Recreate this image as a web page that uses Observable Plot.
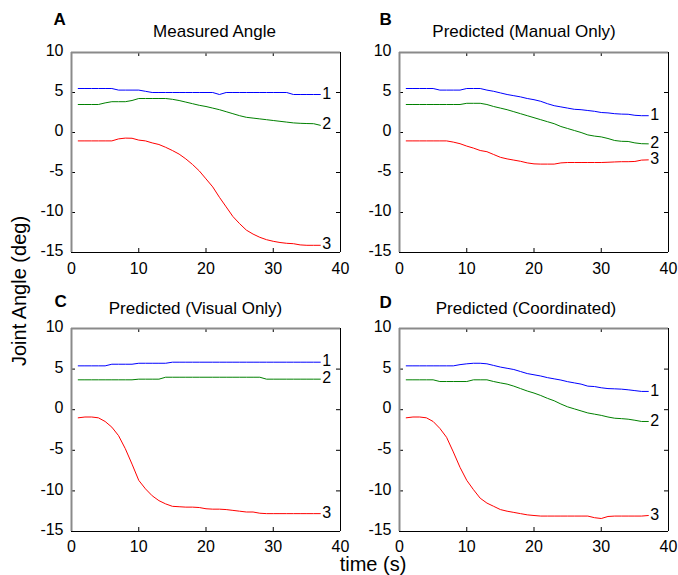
<!DOCTYPE html>
<html>
<head>
<meta charset="utf-8">
<script src="https://cdn.jsdelivr.net/npm/d3@7"></script>
<script src="https://cdn.jsdelivr.net/npm/@observablehq/plot@0.6"></script>
<style>
  html, body { margin: 0; padding: 0; background: #fff; }
  #fig { position: relative; width: 678px; height: 575px; background: #fff;
         font-family: "Liberation Sans", Arial, sans-serif; color: #000; }
  .panel { position: absolute; }
  .lab { position: absolute; font-size: 20px; white-space: nowrap; line-height: 1; }
</style>
</head>
<body>
<div id="fig"></div>
<script>
// ---------- data ----------
const time = d3.range(1, 38); // 1..37 s
const xTicks = [0, 10, 20, 30, 40];
const yTicks = [-15, -10, -5, 0, 5, 10];
const seriesNames = ["1", "2", "3"];
const seriesColors = ["#0000ff", "#008000", "#ff0000"];
const panelLetters = ["A", "B", "C", "D"];
const panelTitles = ["Measured Angle", "Predicted (Manual Only)", "Predicted (Visual Only)", "Predicted (Coordinated)"];
const yLabel = "Joint Angle (deg)";
const xLabel = "time (s)";

// Panel A: Measured
const measured1 = [5.5,5.5,5.5,5.5,5.5,5.5,5.3,5.3,5.3,5.3,5.15,5.0,5.0,5.0,5.0,5.0,5.0,5.0,5.0,5.0,5.0,4.75,5.0,5.0,5.0,5.0,5.0,5.0,5.0,5.0,5.0,5.0,4.75,4.75,4.75,4.75,4.75];
const measured2 = [3.5,3.5,3.5,3.5,3.7,3.85,3.85,3.85,4.0,4.25,4.25,4.25,4.25,4.25,4.15,4.0,3.8,3.6,3.4,3.25,3.05,2.85,2.6,2.35,2.1,1.9,1.8,1.7,1.6,1.5,1.4,1.3,1.2,1.15,1.12,1.1,0.9];
const measured3 = [-1.05,-1.05,-1.05,-1.05,-1.05,-1.05,-0.8,-0.7,-0.72,-0.95,-1.05,-1.3,-1.5,-1.85,-2.25,-2.7,-3.3,-4.0,-4.8,-5.8,-6.8,-8.1,-9.3,-10.5,-11.4,-12.2,-12.7,-13.1,-13.4,-13.6,-13.75,-13.85,-13.9,-14.05,-14.1,-14.1,-14.1];
// Panel B: Predicted (Manual Only)
const manual1 = [5.5,5.5,5.5,5.5,5.5,5.3,5.3,5.3,5.3,5.5,5.5,5.5,5.3,5.15,4.95,4.75,4.6,4.45,4.25,4.1,3.9,3.6,3.35,3.2,3.05,2.9,2.85,2.75,2.65,2.5,2.45,2.35,2.3,2.28,2.15,2.1,2.1];
const manual2 = [3.5,3.5,3.5,3.5,3.5,3.5,3.5,3.5,3.5,3.65,3.65,3.65,3.5,3.25,3.05,2.85,2.6,2.35,2.1,1.85,1.6,1.35,1.1,0.75,0.5,0.25,0,-0.3,-0.45,-0.55,-0.75,-1.0,-1.1,-1.12,-1.3,-1.4,-1.42];
const manual3 = [-1.05,-1.05,-1.05,-1.05,-1.05,-1.05,-1.05,-1.2,-1.4,-1.7,-1.95,-2.25,-2.4,-2.75,-3.1,-3.3,-3.45,-3.6,-3.8,-3.92,-3.95,-3.95,-3.95,-3.8,-3.75,-3.75,-3.75,-3.75,-3.75,-3.75,-3.72,-3.68,-3.65,-3.65,-3.62,-3.45,-3.42];
// Panel C: Predicted (Visual Only)
const visual1 = [5.4,5.4,5.4,5.4,5.4,5.6,5.6,5.6,5.6,5.72,5.72,5.72,5.72,5.72,5.85,5.85,5.85,5.85,5.85,5.85,5.85,5.85,5.85,5.85,5.85,5.85,5.85,5.85,5.85,5.85,5.85,5.85,5.85,5.85,5.85,5.85,5.85];
const visual2 = [3.68,3.68,3.68,3.68,3.68,3.68,3.68,3.68,3.68,3.76,3.76,3.76,3.76,4.0,4.0,4.0,4.0,4.0,4.0,4.0,4.0,4.0,4.0,4.0,4.0,4.0,4.0,4.0,3.76,3.76,3.76,3.76,3.76,3.76,3.76,3.76,3.76];
const visual3 = [-1.0,-0.9,-0.9,-1.0,-1.45,-2.15,-3.2,-4.8,-6.7,-8.7,-9.75,-10.6,-11.2,-11.6,-11.9,-11.95,-12.0,-12.0,-12.05,-12.2,-12.25,-12.25,-12.3,-12.4,-12.5,-12.6,-12.6,-12.75,-12.8,-12.8,-12.8,-12.8,-12.8,-12.8,-12.8,-12.8,-12.8];
// Panel D: Predicted (Coordinated)
const coord1 = [5.4,5.4,5.4,5.4,5.4,5.4,5.4,5.4,5.55,5.65,5.72,5.72,5.65,5.45,5.25,5.1,4.95,4.7,4.45,4.3,4.15,3.95,3.8,3.65,3.45,3.3,3.15,2.9,2.85,2.7,2.6,2.57,2.53,2.45,2.35,2.25,2.25];
const coord2 = [3.68,3.68,3.68,3.68,3.68,3.47,3.47,3.47,3.47,3.47,3.68,3.68,3.68,3.47,3.3,3.15,2.9,2.6,2.3,2.05,1.75,1.4,1.1,0.7,0.35,0.1,-0.15,-0.4,-0.55,-0.7,-0.9,-1.05,-1.1,-1.17,-1.3,-1.45,-1.45];
const coord3 = [-1.0,-0.9,-0.9,-1.0,-1.45,-2.3,-3.4,-5.2,-7.1,-8.7,-9.85,-10.9,-11.5,-11.9,-12.3,-12.5,-12.65,-12.8,-12.95,-13.03,-13.1,-13.1,-13.1,-13.1,-13.1,-13.1,-13.1,-13.1,-13.3,-13.4,-13.15,-13.1,-13.1,-13.1,-13.1,-13.1,-13.03];

const panelSeries = [
  [measured1, measured2, measured3],
  [manual1, manual2, manual3],
  [visual1, visual2, visual3],
  [coord1, coord2, coord3]
];

// ---------- layout (pixels) ----------
const layout = [
  {left: 0,   top: 0,   width: 350, height: 290, ml: 71, mr: 10, mt: 52, mb: 38, pad: 10, titleDx: 8.5, letterDx: -18, letterDy: -28, titleDy: -16},
  {left: 350, top: 0,   width: 328, height: 290, ml: 49, mr: 10, mt: 52, mb: 38, pad: 10, titleDx: -10, letterDx: -20, letterDy: -28, titleDy: -16},
  {left: 0,   top: 290, width: 350, height: 285, ml: 71, mr: 10, mt: 38, mb: 44, pad: 9, titleDx: -10.5, letterDx: -17, letterDy: -22, titleDy: -15},
  {left: 350, top: 290, width: 328, height: 285, ml: 49, mr: 10, mt: 38, mb: 44, pad: 9, titleDx: -8, letterDx: -20, letterDy: -21, titleDy: -15}
];

const fmt = d => String(d);
const fig = document.getElementById("fig");

panelSeries.forEach((series, p) => {
  const L = layout[p];
  const fw = L.width - L.ml - L.mr;
  const fh = L.height - L.mt - L.mb;
  const rows = series.flatMap((vals, s) => vals.map((v, i) => ({t: time[i], v, s: seriesNames[s]})));
  const ends = series.map((vals, s) => ({t: time[vals.length - 1], v: vals[vals.length - 1], s: seriesNames[s]}));
  const tk = 4;
  const chart = Plot.plot({
    width: L.width, height: L.height,
    marginLeft: L.ml, marginRight: L.mr, marginTop: L.mt, marginBottom: L.mb,
    style: {fontFamily: "'Liberation Sans', Arial, sans-serif", fontSize: "16px", background: "transparent", color: "#000", overflow: "visible"},
    x: {domain: [0, 40], ticks: xTicks, tickFormat: fmt, label: null},
    y: {domain: [-15, 10], ticks: yTicks, tickFormat: fmt, label: null},
    color: {domain: seriesNames, range: seriesColors},
    marks: [
      Plot.axisX({ticks: xTicks, tickFormat: fmt, tickSize: 0, tickPadding: L.pad, label: null, fontSize: 16}),
      Plot.axisY({ticks: yTicks, tickFormat: fmt, tickSize: 0, tickPadding: 8, label: null, fontSize: 16, dy: -1.5}),
      // inward tick marks on all four sides
      Plot.tickX(xTicks, {x: d => d, insetBottom: fh - tk, stroke: "#000"}),
      Plot.tickX(xTicks, {x: d => d, insetTop: fh - tk, stroke: "#000"}),
      Plot.tickY(yTicks, {y: d => d, insetRight: fw - tk, stroke: "#000"}),
      Plot.tickY(yTicks, {y: d => d, insetLeft: fw - tk, stroke: "#000"}),
      // box
      Plot.ruleY([10], {stroke: "#8a8a8a", strokeWidth: 2}),
      Plot.ruleX([0], {stroke: "#8a8a8a", strokeWidth: 2}),
      Plot.ruleY([-15], {stroke: "#000", strokeWidth: 1}),
      Plot.ruleX([40], {stroke: "#000", strokeWidth: 1}),
      // data lines
      Plot.line(rows, {x: "t", y: "v", z: "s", stroke: "s", strokeWidth: 1}),
      Plot.text(ends, {x: "t", y: "v", text: "s", dx: 2, dy: -1, textAnchor: "start", fill: "#000", fontSize: 16}),
      // panel title and letter
      Plot.text([panelTitles[p]], {frameAnchor: "top", dx: L.titleDx, dy: L.titleDy, lineAnchor: "bottom", fontSize: 17, fill: "#000"}),
      Plot.text([panelLetters[p]], {frameAnchor: "top-left", dx: L.letterDx, dy: L.letterDy, lineAnchor: "bottom", textAnchor: "start", fontSize: 17, fontWeight: "bold", fill: "#000"})
    ]
  });
  const holder = document.createElement("div");
  holder.className = "panel";
  holder.style.left = L.left + "px";
  holder.style.top = L.top + "px";
  holder.appendChild(chart);
  fig.appendChild(holder);
});

// shared axis labels
const yl = document.createElement("div");
yl.className = "lab";
yl.textContent = yLabel;
yl.style.left = "19px";
yl.style.top = "291px";
yl.style.transform = "translate(-50%, -50%) rotate(-90deg)";
fig.appendChild(yl);

const xl = document.createElement("div");
xl.className = "lab";
xl.textContent = xLabel;
xl.style.left = "373px";
xl.style.top = "554px";
xl.style.transform = "translateX(-50%)";
fig.appendChild(xl);
</script>
</body>
</html>
